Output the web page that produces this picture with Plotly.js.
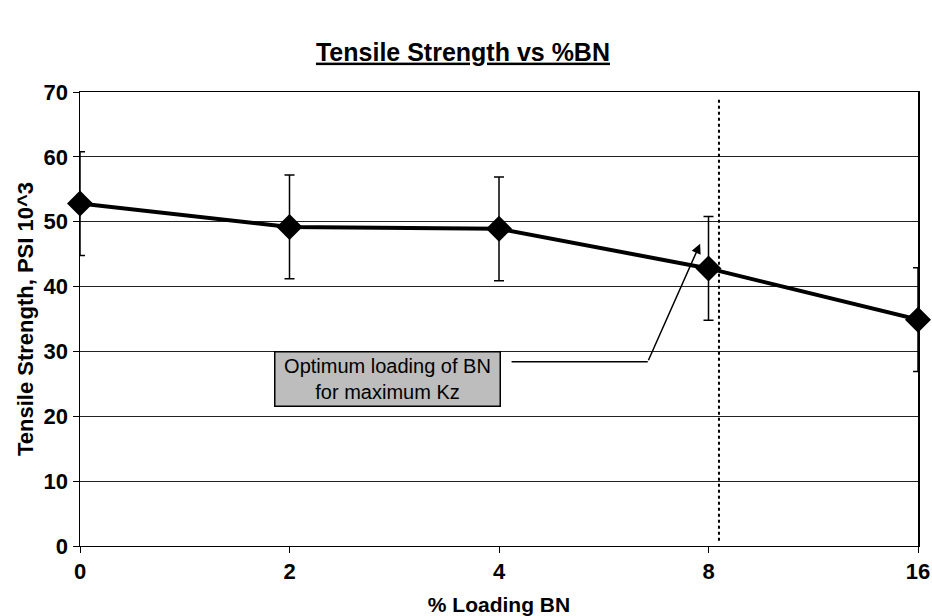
<!DOCTYPE html>
<html>
<head>
<meta charset="utf-8">
<script src="https://cdn.plot.ly/plotly-3.0.1.min.js"></script>
<style>html,body{margin:0;padding:0;background:#fff;}#chart{width:932px;height:616px;}</style>
</head>
<body>
<div id="chart"></div>
<script>
var loadingLabels = ['0', '2', '4', '8', '16'];
var positions = [0, 1, 2, 3, 4];
var tensile = [52.8, 49.2, 48.9, 42.8, 34.9];
var errorPlusMinus = [8, 8, 8, 8, 8];
var yTicks = [0, 10, 20, 30, 40, 50, 60, 70];

var trace = {
  x: positions,
  y: tensile,
  type: 'scatter',
  mode: 'lines+markers',
  line: {color: '#000', width: 4},
  marker: {symbol: 'diamond', size: 20, color: '#000'},
  error_y: {type: 'data', array: errorPlusMinus, visible: true, color: '#000', thickness: 1.5, width: 5},
  cliponaxis: false,
  showlegend: false
};

var fontFam = 'Arial, "Liberation Sans", sans-serif';
var bold = function (s) { return '<b>' + s + '</b>'; };

var layout = {
  width: 932, height: 616,
  margin: {l: 80, r: 14, t: 92, b: 70},
  paper_bgcolor: '#fff', plot_bgcolor: '#fff',
  font: {family: fontFam, color: '#000', size: 18},
  title: {text: '<u><b>Tensile Strength vs %BN</b></u>', font: {size: 25, family: fontFam, color: '#000'},
          x: 0.457, xref: 'paper', y: 0.93, yref: 'container'},
  xaxis: {
    range: [0, 4], tickmode: 'array', tickvals: positions, ticktext: loadingLabels.map(bold),
    showgrid: false, zeroline: false, showline: true, linecolor: '#000', linewidth: 1, mirror: true,
    ticks: 'outside', ticklen: 6, tickcolor: '#000',
    tickfont: {size: 22},
    title: {text: '<b>% Loading BN</b>', font: {size: 21, family: fontFam}, standoff: 14}
  },
  yaxis: {
    range: [0, 70], tickmode: 'array', tickvals: yTicks, ticktext: yTicks.map(String).map(bold),
    showgrid: true, gridcolor: '#222', gridwidth: 1, zeroline: false,
    showline: true, linecolor: '#000', linewidth: 1.5, mirror: true,
    ticks: 'outside', ticklen: 6, tickcolor: '#000',
    tickfont: {size: 22},
    title: {text: '<b>Tensile Strength, PSI 10^3</b>', font: {size: 22, family: fontFam}, standoff: 4}
  },
  shapes: [
    {type: 'line', xref: 'x', yref: 'y', x0: 3.05, x1: 3.05, y0: 0.8, y1: 68.8,
     line: {color: '#000', width: 2, dash: 'dot'}},
    {type: 'line', xref: 'x', yref: 'y', x0: 2.06, x1: 2.71, y0: 28.4, y1: 28.4,
     line: {color: '#000', width: 1.5}}
  ],
  annotations: [
    {x: 1.47, y: 25.7, xref: 'x', yref: 'y', showarrow: false,
     text: 'Optimum loading of BN<br>for maximum Kz',
     font: {size: 20, family: fontFam, color: '#000'},
     bgcolor: '#bdbdbd', bordercolor: '#000', borderwidth: 1.5,
     width: 222, height: 51, align: 'center'},
    {x: 2.96, y: 46.6, xref: 'x', yref: 'y', ax: 2.71, ay: 28.4, axref: 'x', ayref: 'y',
     text: '', showarrow: true, arrowhead: 2, arrowsize: 1.3, arrowwidth: 1.5, arrowcolor: '#000'}
  ]
};

Plotly.newPlot('chart', [trace], layout, {displayModeBar: false, staticPlot: true});
</script>
</body>
</html>
